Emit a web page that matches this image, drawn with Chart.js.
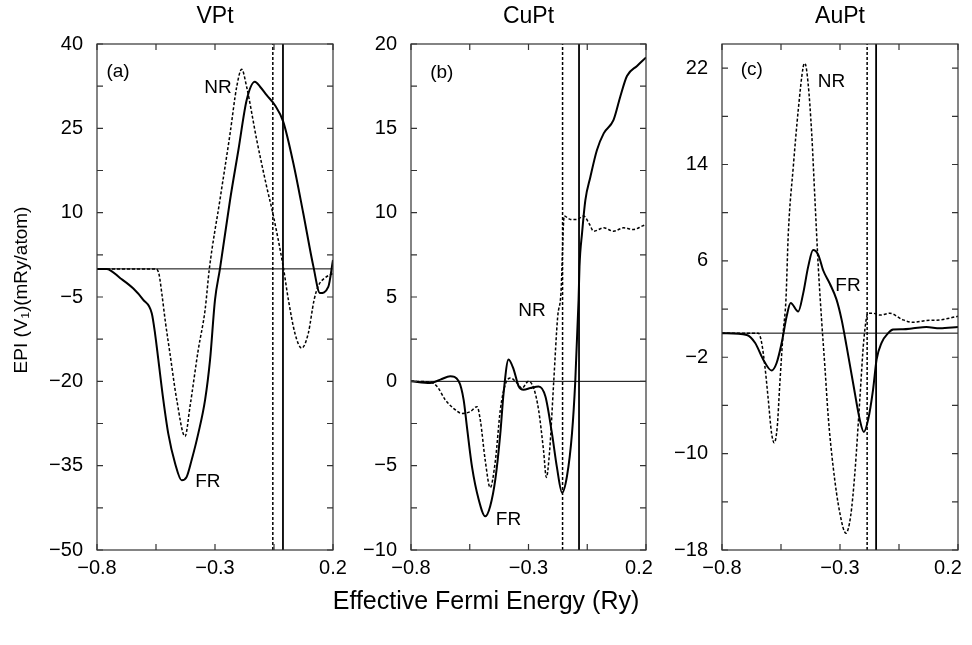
<!DOCTYPE html>
<html lang="en">
<head>
<meta charset="UTF-8">
<title>EPI vs effective Fermi energy</title>
<style>
  body { margin:0; background:#fff; width:972px; height:645px; overflow:hidden; position:relative;
         font-family:"Liberation Sans", Arial, sans-serif; }
  canvas { position:absolute; top:0; }
  #xtitle { position:absolute; left:0; width:972px; top:586px; text-align:center; font-size:25px; color:#000; }
</style>
</head>
<body>
<canvas id="cA" width="350" height="600" style="left:0"></canvas>
<canvas id="cB" width="310" height="600" style="left:350px"></canvas>
<canvas id="cC" width="322" height="600" style="left:650px"></canvas>
<div id="xtitle">Effective Fermi Energy (Ry)</div>
<script src="https://cdn.jsdelivr.net/npm/chart.js@4/dist/chart.umd.min.js"></script>
<script>
// tick labels
var xMajor = [-0.8, -0.3, 0.2];
var yMajorA = [-50, -35, -20, -5, 10, 25, 40];
var yMajorB = [-10, -5, 0, 5, 10, 15, 20];
var yMajorC = [-18, -10, -2, 6, 14, 22];

// VPt
var vptFrE = [-0.8, -0.76, -0.70, -0.646, -0.604, -0.568, -0.554, -0.54, -0.519, -0.498, -0.469, -0.441, -0.42, -0.399, -0.371, -0.342, -0.321, -0.3, -0.279, -0.236, -0.201, -0.166, -0.131, -0.109, -0.081, -0.046, -0.011, 0.032, 0.074, 0.117, 0.145, 0.18, 0.2];
var vptFrV = [0, 0, -1.7, -3.5, -5.5, -7.9, -11.5, -16.2, -23.3, -29.3, -34.6, -37.6, -37, -34, -29.3, -23.3, -16.2, -5.5, 0, 12.3, 21.1, 30, 33.3, 32.4, 30.9, 29.1, 26.2, 18.8, 9.9, 0.4, -4.3, -3.2, 1.6];
var vptNrE = [-0.8, -0.55, -0.537, -0.525, -0.51, -0.491, -0.462, -0.427, -0.406, -0.371, -0.342, -0.324, -0.279, -0.236, -0.208, -0.187, -0.166, -0.123, -0.081, -0.055, -0.011, 0.011, 0.039, 0.067, 0.095, 0.12, 0.138, 0.166, 0.2];
var vptNrV = [0, 0, -1.0, -4.5, -9.5, -15, -23.3, -29.8, -24.5, -14.4, -7.3, 0, 12.3, 24.1, 32.4, 35.5, 32.4, 22.9, 14.6, 9.9, 0.4, -5.5, -11.5, -14.1, -11.5, -5.5, -3.0, -1.6, -0.8];

// CuPt
var cuptFrE = [-0.8, -0.718, -0.675, -0.633, -0.597, -0.576, -0.562, -0.54, -0.512, -0.484, -0.463, -0.441, -0.42, -0.406, -0.385, -0.363, -0.342, -0.321, -0.292, -0.257, -0.228, -0.2, -0.179, -0.157, -0.136, -0.115, -0.101, -0.087, -0.083, -0.072, -0.058, -0.037, -0.009, 0.02, 0.062, 0.091, 0.119, 0.162, 0.2];
var cuptFrV = [0, -0.1, 0.1, 0.3, 0, -1.1, -2.7, -5.1, -7.0, -8.0, -7.4, -5.8, -3.1, -0.7, 1.3, 0.7, -0.3, -0.5, -0.4, -0.3, -0.9, -3.1, -5.1, -6.6, -5.6, -3.1, 0, 4.8, 6.8, 8.8, 10.75, 12.1, 13.7, 14.7, 15.5, 16.9, 18.1, 18.7, 19.2];
var cuptNrE = [-0.8, -0.718, -0.689, -0.654, -0.619, -0.583, -0.548, -0.519, -0.505, -0.484, -0.463, -0.441, -0.42, -0.399, -0.377, -0.349, -0.328, -0.3, -0.278, -0.257, -0.236, -0.224, -0.21, -0.193, -0.176, -0.162, -0.148, -0.122, -0.094, -0.066, -0.04, -0.023, 0.02, 0.062, 0.105, 0.147, 0.183, 0.2];
var cuptNrV = [0, -0.05, -0.3, -1.1, -1.6, -1.9, -1.8, -1.5, -2.3, -4.7, -6.3, -4.7, -1.7, -0.2, 0.2, -0.1, -0.4, 0, -0.4, -1.7, -4.1, -5.7, -4.1, -0.1, 3.8, 5.2, 9.8, 9.6, 9.6, 9.8, 9.3, 8.9, 9.1, 8.9, 9.1, 9.0, 9.2, 9.3];

// AuPt
var auptFrE = [-0.8, -0.695, -0.66, -0.625, -0.59, -0.569, -0.547, -0.526, -0.509, -0.477, -0.456, -0.435, -0.414, -0.392, -0.371, -0.343, -0.315, -0.293, -0.272, -0.244, -0.216, -0.199, -0.181, -0.16, -0.145, -0.124, -0.096, -0.075, -0.033, 0.01, 0.066, 0.123, 0.2];
var auptFrV = [0, -0.15, -0.8, -2.2, -3.1, -2.5, -0.8, 1.4, 2.5, 1.8, 3.3, 5.5, 6.9, 6.5, 5.2, 4.1, 2.8, 1.1, -1.1, -4.2, -7.2, -8.2, -7.2, -4.7, -2.2, -0.8, 0, 0.3, 0.33, 0.4, 0.5, 0.4, 0.5];
var auptNrE = [-0.8, -0.646, -0.632, -0.618, -0.604, -0.59, -0.579, -0.566, -0.555, -0.541, -0.529, -0.519, -0.498, -0.477, -0.456, -0.449, -0.435, -0.42, -0.406, -0.392, -0.378, -0.364, -0.35, -0.329, -0.301, -0.275, -0.255, -0.237, -0.216, -0.199, -0.181, -0.16, -0.131, -0.089, -0.033, 0.01, 0.066, 0.123, 0.2];
var auptNrV = [0, 0, -0.8, -2.8, -5.5, -8.3, -9.1, -7.8, -4.2, 0, 2.8, 8.3, 13.8, 18.5, 22.1, 22.4, 20.7, 16.6, 11.0, 5.5, 1.1, -2.8, -6.9, -11.1, -14.9, -16.6, -15.2, -11.6, -5.5, -0.55, 1.65, 1.65, 1.5, 1.65, 1.1, 0.9, 1.05, 1.1, 1.4];

// Fermi level markers (VPt, CuPt, AuPt)
var fermiNR = [-0.055, -0.155, -0.185];
var fermiFR = [-0.012, -0.085, -0.147];

var FONT = '"Liberation Sans", Arial, sans-serif';
Chart.defaults.font.family = FONT;
Chart.defaults.color = '#000';

function series(xs, ys) {
    return xs.map(function (x, i) { return {x: x, y: ys[i]}; });
}
function withMinors(major) {
    var out = [];
    for (var i = 0; i < major.length; i++) {
        out.push(major[i]);
        if (i < major.length - 1) out.push((major[i] + major[i + 1]) / 2);
    }
    return out;
}
function isIn(list, v) {
    return list.some(function (m) { return Math.abs(m - v) < 1e-9; });
}
function fmt(v) {
    return v < 0 ? '\u2212' + Math.abs(v) : String(v);
}

var framePlugin = {
    id: 'frame',
    afterDraw: function (chart, args, o) {
        var ctx = chart.ctx, a = chart.chartArea;
        var xs = chart.scales.x, ys = chart.scales.y;
        ctx.save();
        ctx.strokeStyle = '#333';
        ctx.lineWidth = 1.2;
        ctx.strokeRect(a.left, a.top, a.right - a.left, a.bottom - a.top);
        ctx.beginPath();
        xs.ticks.forEach(function (t) {
            var p = xs.getPixelForValue(t.value);
            ctx.moveTo(p, a.bottom); ctx.lineTo(p, a.bottom - 6);
            ctx.moveTo(p, a.top); ctx.lineTo(p, a.top + 6);
        });
        ys.ticks.forEach(function (t) {
            var p = ys.getPixelForValue(t.value);
            ctx.moveTo(a.left, p); ctx.lineTo(a.left + 6, p);
            ctx.moveTo(a.right, p); ctx.lineTo(a.right - 6, p);
        });
        ctx.stroke();
        ctx.fillStyle = '#000';
        ctx.textAlign = 'center';
        ctx.textBaseline = 'middle';
        ctx.font = '19px ' + FONT;
        o.notes.forEach(function (n) {
            ctx.fillText(n.text, xs.getPixelForValue(n.x), ys.getPixelForValue(n.y));
        });
        ctx.font = '23px ' + FONT;
        ctx.fillText(o.title, (a.left + a.right) / 2, 17);
        if (o.yTitle) {
            ctx.translate(22, 290);
            ctx.rotate(-Math.PI / 2);
            ctx.font = '19px ' + FONT;
            ctx.fillText(o.yTitle, 0, 0);
        }
        ctx.restore();
    }
};

function makePanel(id, p) {
    var yTicks = withMinors(p.yMajor);
    var xTicks = withMinors(xMajor);
    var ymin = p.ymin, ymax = p.ymax;
    var datasets = [
        {data: [{x: -0.8, y: 0}, {x: 0.2, y: 0}], borderColor: '#000', borderWidth: 1, tension: 0},
        {data: [{x: p.nrLine, y: ymin}, {x: p.nrLine, y: ymax}], borderColor: '#000', borderWidth: 1.5, borderDash: [3, 2], tension: 0},
        {data: [{x: p.frLine, y: ymin}, {x: p.frLine, y: ymax}], borderColor: '#000', borderWidth: 1.8, tension: 0},
        {data: series(p.nrE, p.nrV), borderColor: '#000', borderWidth: 1.5, borderDash: [3, 2], cubicInterpolationMode: 'monotone'},
        {data: series(p.frE, p.frV), borderColor: '#000', borderWidth: 2, cubicInterpolationMode: 'monotone'}
    ];
    return new Chart(document.getElementById(id), {
        type: 'line',
        data: {datasets: datasets},
        plugins: [framePlugin],
        options: {
            responsive: false,
            animation: false,
            layout: {padding: {left: 0, right: p.padRight, top: 44, bottom: 0}},
            elements: {point: {radius: 0}},
            plugins: {
                legend: {display: false},
                tooltip: {enabled: false},
                frame: {title: p.title, notes: p.notes, yTitle: p.yTitle}
            },
            scales: {
                x: {
                    type: 'linear', min: -0.8, max: 0.2,
                    grid: {display: false, drawTicks: false},
                    border: {display: false},
                    afterBuildTicks: function (s) { s.ticks = xTicks.map(function (v) { return {value: v}; }); },
                    afterFit: function (s) { s.height = 50; s.paddingLeft = 0; s.paddingRight = 0; },
                    ticks: {
                        padding: 6, maxRotation: 0, autoSkip: false,
                        font: {size: 20},
                        callback: function (v, i, all) {
                            if (!isIn(xMajor, v)) return '';
                            // the last label sits a little left of its tick in the source figure
                            return i === all.length - 1 ? fmt(v) + p.lastPad : fmt(v);
                        }
                    }
                },
                y: {
                    type: 'linear', min: ymin, max: ymax,
                    grid: {display: false, drawTicks: false},
                    border: {display: false},
                    afterBuildTicks: function (s) { s.ticks = yTicks.map(function (v) { return {value: v}; }); },
                    afterFit: function (s) { s.width = p.yWidth; s.paddingTop = 0; s.paddingBottom = 0; },
                    ticks: {
                        padding: 14, autoSkip: false,
                        font: {size: 20},
                        callback: function (v) { return isIn(p.yMajor, v) ? fmt(v) : ''; }
                    }
                }
            }
        }
    });
}

makePanel('cA', {
    title: 'VPt', yMajor: yMajorA, ymin: -50, ymax: 40, yWidth: 97, padRight: 17, lastPad: '',
    yTitle: 'EPI (V\u2081)(mRy/atom)',
    frE: vptFrE, frV: vptFrV, nrE: vptNrE, nrV: vptNrV,
    nrLine: fermiNR[0], frLine: fermiFR[0],
    notes: [{text: '(a)', x: -0.711, y: 35}, {text: 'NR', x: -0.287, y: 32.2}, {text: 'FR', x: -0.33, y: -37.9}]
});
makePanel('cB', {
    title: 'CuPt', yMajor: yMajorB, ymin: -10, ymax: 20, yWidth: 61, padRight: 14, lastPad: '\u2002\u2009',
    frE: cuptFrE, frV: cuptFrV, nrE: cuptNrE, nrV: cuptNrV,
    nrLine: fermiNR[1], frLine: fermiFR[1],
    notes: [{text: '(b)', x: -0.669, y: 18.3}, {text: 'NR', x: -0.285, y: 4.2}, {text: 'FR', x: -0.385, y: -8.2}]
});
makePanel('cC', {
    title: 'AuPt', yMajor: yMajorC, ymin: -18, ymax: 24, yWidth: 72, padRight: 14, lastPad: '\u2002\u2002',
    frE: auptFrE, frV: auptFrV, nrE: auptNrE, nrV: auptNrV,
    nrLine: fermiNR[2], frLine: fermiFR[2],
    notes: [{text: '(c)', x: -0.674, y: 21.9}, {text: 'NR', x: -0.336, y: 20.9}, {text: 'FR', x: -0.266, y: 3.9}]
});
</script>
</body>
</html>
